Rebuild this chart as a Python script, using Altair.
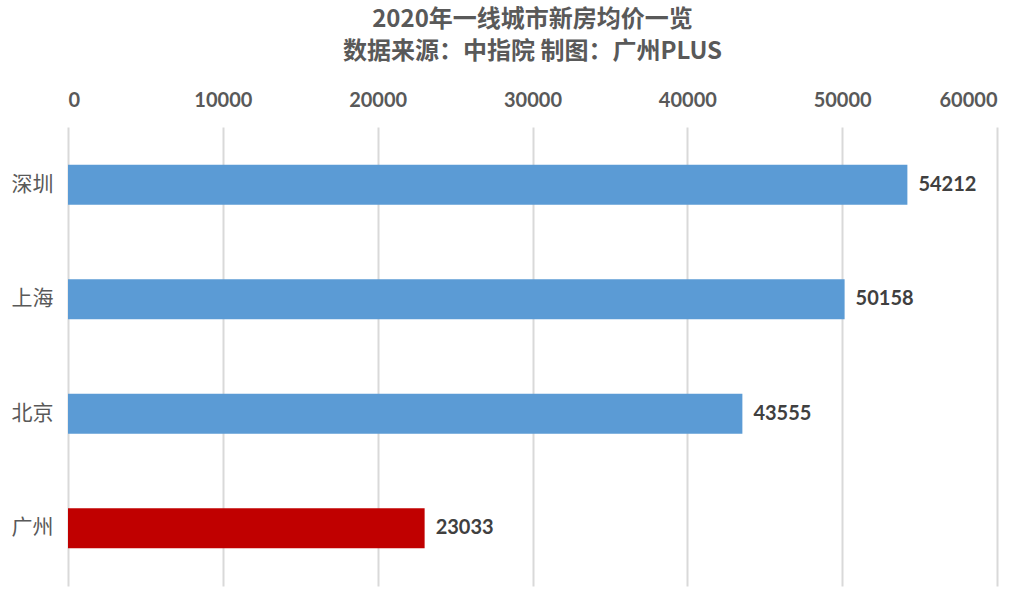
import altair as alt
import pandas as pd

cities = ["深圳", "上海", "北京", "广州"]
prices = [54212, 50158, 43555, 23033]
highlight = [False, False, False, True]
x_ticks = [0, 10000, 20000, 30000, 40000, 50000, 60000]

df = pd.DataFrame({"city": cities, "price": prices, "hl": highlight})

base = alt.Chart(df).encode(
    y=alt.Y("city:N", sort=cities, title=None,
            scale=alt.Scale(paddingInner=0.65, paddingOuter=0.33),
            axis=alt.Axis(domain=False, ticks=False, labelFontSize=21,
                          labelColor="#595959", labelFont="Noto Sans CJK SC",
                          labelPadding=15)),
)

bars = base.mark_bar().encode(
    x=alt.X("price:Q", title=None,
            scale=alt.Scale(domain=[0, 60000], nice=False),
            axis=alt.Axis(orient="top", values=x_ticks, domain=False, ticks=False,
                          grid=True, gridColor="#D9D9D9", gridWidth=2,
                          labelFontSize=20, labelFontWeight="bold", labelFont="Lato",
                          labelColor="#595959", labelPadding=17, format="d")),
    color=alt.Color("hl:N", scale=alt.Scale(domain=[False, True], range=["#5B9BD5", "#C00000"]),
                    legend=None),
)

labels = base.mark_text(align="left", dx=11, fontSize=20, fontWeight="bold",
                        font="Lato", color="#404040").encode(
    x="price:Q",
    text=alt.Text("price:Q", format="d"),
)

chart = (bars + labels).properties(
    width=929, height=459,
    autosize=alt.AutoSizeParams(type="none"),
    padding={"left": 68, "top": 127, "right": 33, "bottom": 11},
    title=alt.TitleParams(
        text=["2020年一线城市新房均价一览", "数据来源：中指院 制图：广州PLUS"],
        anchor="middle", fontSize=24, fontWeight="bold", color="#595959",
        font="Noto Sans CJK SC", lineHeight=32, offset=26,
    ),
).configure_view(stroke=None)

chart.save("out.html", embed_options={"renderer": "svg", "actions": False})
